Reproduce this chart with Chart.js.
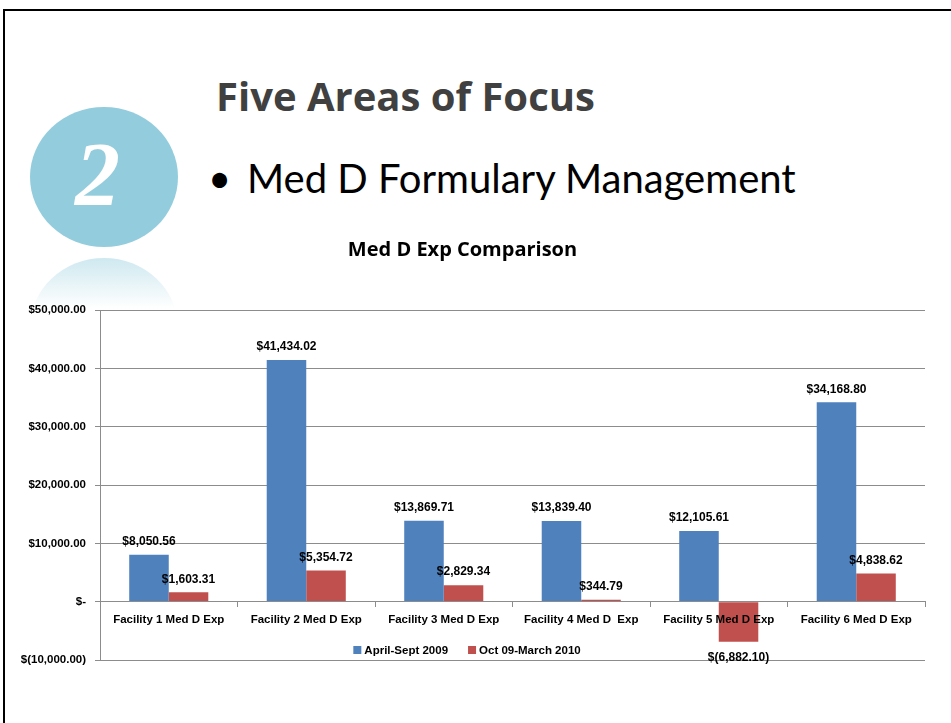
<!DOCTYPE html>
<html>
<head>
    <title>Med D Exp Comparison</title>
    <script src="https://cdn.jsdelivr.net/npm/chart.js"></script>
    <style>
        body {
            margin: 0;
            width: 951px;
            height: 723px;
            background: #fff;
            overflow: hidden;
            position: relative;
            font-family: Lato, "Liberation Sans", sans-serif;
        }
        .frame {
            position: absolute;
            left: 3px;
            top: 9px;
            width: 960px;
            height: 800px;
            border-top: 2px solid #000;
            border-left: 2px solid #000;
        }
        .badge {
            position: absolute;
            left: 30px;
            top: 107px;
            width: 148px;
            height: 140px;
            border-radius: 50%;
            background: #93cddd;
        }
        .badge span {
            position: absolute;
            left: 45px;
            top: 24px;
            color: #fff;
            font-family: "Liberation Serif", serif;
            font-style: italic;
            font-weight: bold;
            font-size: 90px;
            line-height: 88px;
        }
        .reflect {
            position: absolute;
            left: 30px;
            top: 258px;
            width: 148px;
            height: 50px;
            overflow: hidden;
        }
        .reflect div {
            width: 148px;
            height: 140px;
            border-radius: 50%;
            background: linear-gradient(to bottom, rgba(147,205,221,0.45), rgba(147,205,221,0) 36%);
        }
        .heading {
            position: absolute;
            left: 216px;
            top: 76px;
            font-family: "Open Sans", sans-serif;
            font-size: 40px;
            line-height: 40.5px;
            font-weight: bold;
            color: #404040;
            white-space: nowrap;
        }
        .bullet {
            position: absolute;
            left: 208px;
            top: 158px;
            font-size: 40px;
            line-height: 40px;
            color: #000;
            white-space: nowrap;
        }
        .bullet span {
            display: inline-block;
            width: 39px;
        }
        #chart {
            position: absolute;
            left: 0;
            top: 0;
        }
    </style>
</head>
<body>
    <div class="frame"></div>
    <div class="badge"><span>2</span></div>
    <div class="reflect"><div></div></div>
    <div class="heading">Five Areas of Focus</div>
    <div class="bullet"><span>•</span>Med D Formulary Management</div>
    <canvas id="chart" width="951" height="723"></canvas>

    <script>
        const chartTitle = 'Med D Exp Comparison';
        const categories = ['Facility 1 Med D Exp', 'Facility 2 Med D Exp', 'Facility 3 Med D Exp',
                            'Facility 4 Med D  Exp', 'Facility 5 Med D Exp', 'Facility 6 Med D Exp'];
        const seriesLabels = ['April-Sept 2009', 'Oct 09-March 2010'];
        const aprilSept2009 = [8050.56, 41434.02, 13869.71, 13839.40, 12105.61, 34168.80];
        const oct09March2010 = [1603.31, 5354.72, 2829.34, 344.79, -6882.10, 4838.62];
        const yMin = -10000;
        const yMax = 50000;
        const yStep = 10000;

        const sans = '"Liberation Sans", Arial, sans-serif';

        function money(v) {
            if (v === 0) return '$-';
            let s = Math.abs(v).toLocaleString('en-US', {minimumFractionDigits: 2, maximumFractionDigits: 2});
            return v < 0 ? '$(' + s + ')' : '$' + s;
        }

        // value labels over the bars + legend sitting inside the plot
        const extras = {
            id: 'extras',
            afterDatasetsDraw(chart) {
                let ctx = chart.ctx;
                ctx.save();
                ctx.font = 'bold 12px ' + sans;
                ctx.fillStyle = '#000';
                ctx.textAlign = 'center';
                ctx.textBaseline = 'middle';
                chart.data.datasets.forEach((ds, i) => {
                    chart.getDatasetMeta(i).data.forEach((bar, j) => {
                        let v = ds.data[j];
                        let y = v >= 0 ? bar.y - 13 : bar.y + 16;
                        ctx.fillText(money(v), bar.x, y);
                    });
                });

                // legend
                ctx.font = 'bold 11.5px ' + sans;
                let box = 8, gap = 3, spacing = 20;
                let widths = chart.data.datasets.map(ds => box + gap + ctx.measureText(ds.label).width);
                let total = widths.reduce((a, b) => a + b, 0) + spacing * (widths.length - 1);
                let x = 467 - total / 2;
                let y = chart.chartArea.bottom - 10;
                ctx.textAlign = 'left';
                chart.data.datasets.forEach((ds, i) => {
                    ctx.fillStyle = ds.backgroundColor;
                    ctx.fillRect(x, y - box / 2, box, box);
                    ctx.fillStyle = '#000';
                    ctx.fillText(ds.label, x + box + gap, y + 1);
                    x += widths[i] + spacing;
                });
                ctx.restore();
            }
        };

        new Chart(document.getElementById('chart'), {
            type: 'bar',
            data: {
                labels: categories,
                datasets: [{
                    label: seriesLabels[0],
                    data: aprilSept2009,
                    backgroundColor: '#4f81bd'
                }, {
                    label: seriesLabels[1],
                    data: oct09March2010,
                    backgroundColor: '#c0504d'
                }]
            },
            options: {
                responsive: false,
                animation: false,
                categoryPercentage: 0.575,
                barPercentage: 1,
                layout: {
                    padding: {left: 0, right: 26, top: 0, bottom: 63}
                },
                plugins: {
                    legend: {display: false},
                    tooltip: {enabled: false},
                    title: {
                        display: true,
                        text: chartTitle,
                        color: '#000',
                        font: {family: '"Open Sans", sans-serif', size: 20, weight: 'bold', lineHeight: 1.2},
                        padding: {top: 238, bottom: 48}
                    }
                },
                scales: {
                    x: {
                        position: {y: 0},
                        grid: {
                            offset: true,
                            drawOnChartArea: false,
                            tickLength: 5,
                            color: '#8c8c8c'
                        },
                        border: {color: '#8c8c8c', z: 1},
                        ticks: {
                            z: 1,
                            color: '#000',
                            font: {family: sans, size: 11.5, weight: 'bold'},
                            padding: 6,
                            maxRotation: 0,
                            autoSkip: false
                        }
                    },
                    y: {
                        min: yMin,
                        max: yMax,
                        afterFit(scale) { scale.width = 100; },
                        grid: {
                            color: '#8c8c8c',
                            tickLength: 5
                        },
                        border: {color: '#8c8c8c'},
                        ticks: {
                            stepSize: yStep,
                            color: '#000',
                            font: {family: sans, size: 11.5, weight: 'bold'},
                            padding: 9,
                            callback: v => money(v)
                        }
                    }
                }
            },
            plugins: [extras]
        });
    </script>
</body>
</html>
